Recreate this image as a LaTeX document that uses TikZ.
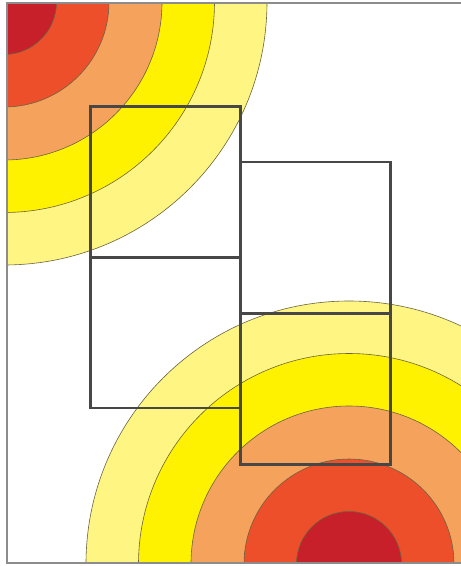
\documentclass[tikz,border=0pt]{standalone}
\usepackage{tikz}

\definecolor{ringdark}{HTML}{C7202A}
\definecolor{ringred}{HTML}{EE4F2B}
\definecolor{ringorange}{HTML}{F4A25C}
\definecolor{ringyellow}{HTML}{FFF200}
\definecolor{ringpale}{HTML}{FFF582}
\definecolor{ringline}{HTML}{6B6440}

\begin{document}
\begin{tikzpicture}[
x=1pt, y=-1pt,
ring/.style={draw=ringline, line width=0.6pt},
frame/.style={draw=black!45, line width=1.3pt},
cell/.style={draw=black!72, line width=2.1pt, inner sep=0pt, outer sep=0pt,
  minimum width=150pt, minimum height=151pt} ]

\useasboundingbox (0,0) rectangle (461,566);

% heat rings, clipped to the frame
\begin{scope}
\clip (7,3) rectangle (461,563);
\foreach \r/\c in {263/ringpale, 210.5/ringyellow, 158/ringorange, 105/ringred, 52.5/ringdark}
{
  \fill[\c] (4,2) circle[radius=\r];
  \draw[ring] (4,2) circle[radius=\r];
  \fill[\c] (349,564) circle[radius=\r];
  \draw[ring] (349,564) circle[radius=\r];
}
\end{scope}

\draw[frame] (461,3) -- (7,3) -- (7,563) -- (461,563);

\node[cell](TL) at (165.5,182) {};

\node[cell](BL) at (165.5,332.5) {};

\node[cell](TR) at (315.5,237.5) {};

\node[cell](BR) at (315.5,389) {};
\end{tikzpicture}
\end{document}
